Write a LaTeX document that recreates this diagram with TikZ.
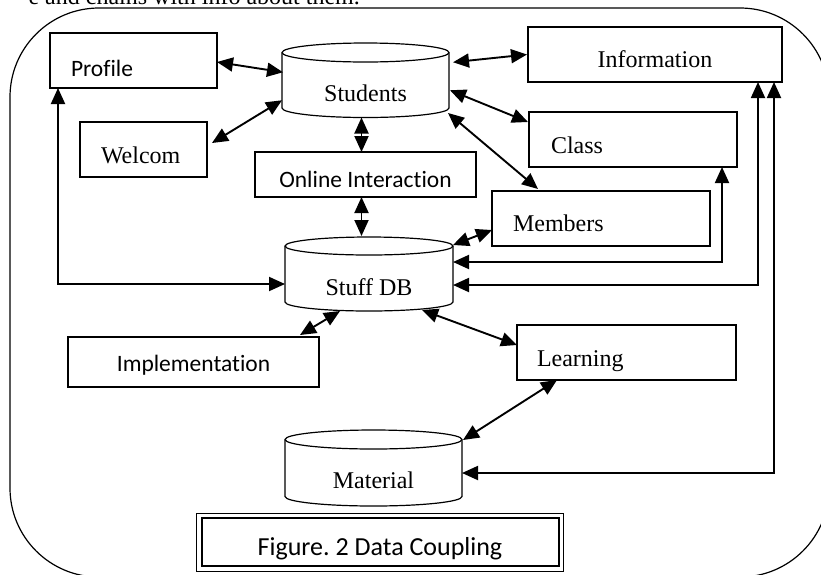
\documentclass[tikz,border=0pt]{standalone}
\usepackage{fontspec}
\setmainfont{Liberation Serif}
\newfontfamily\calib[Ligatures=NoCommon]{Carlito}
\usetikzlibrary{arrows.meta,calc}
\frenchspacing

% text placed inside a box: width, alignment, baseline drop below centre, content
\newcommand\intext[4]{\raisebox{-#3}[0pt][0pt]{\makebox[#1][#2]{#4}}}

% outline of a database cylinder drawn around a named node
\newcommand\cylout[3]{%
  \draw[cylline] ([yshift=-#3]#1.north west) -- ([yshift=#3]#1.south west)
    arc[start angle=180,end angle=360,x radius=#2,y radius=#3]
    -- ([yshift=-#3]#1.north east)
    arc[start angle=0,end angle=180,x radius=#2,y radius=#3] -- cycle;
  \draw[cylline] ([yshift=-#3]#1.north east)
    arc[start angle=0,end angle=-180,x radius=#2,y radius=#3];}

\tikzset{
  serif/.style={font=\fontsize{24pt}{28pt}\selectfont},
  sans/.style={font=\calib\fontsize{23.5pt}{28pt}\selectfont},
  box/.style={draw, line width=1.3pt, inner sep=0pt, outer sep=0pt},
  cyl/.style={inner sep=0pt, outer sep=0pt},
  cylline/.style={line width=1.2pt},
  conn/.style={line width=1.9pt,
    {Triangle[length=16pt,width=14pt]}-{Triangle[length=16pt,width=14pt]}},
  frame/.style={line width=1.2pt, rounded corners=89pt}
}

\begin{document}
\begin{tikzpicture}[x=1pt,y=-1pt]
\useasboundingbox (0,0) rectangle (821,574);
\clip (0,0) rectangle (821,574);

% running text above the figure
\node[serif, anchor=base east, inner sep=0pt] (runon) at (360,4) {e and chains with info about them.};

% enclosing frame
\draw[frame] (10,8) rectangle (829,577);

% boxes
\node[box, sans, minimum width=167pt, minimum height=55pt] (prof) at (133.5,60.5)
  {\intext{167pt}{l}{15.5pt}{\hspace{21pt}Profile}};
\node[box, serif, minimum width=127pt, minimum height=55pt] (wel) at (143.5,149.5)
  {\intext{127pt}{l}{13.5pt}{\hspace{21pt}Welcom}};
\node[box, serif, minimum width=254pt, minimum height=55pt] (info) at (655,54.5)
  {\intext{0pt}{c}{12.5pt}{Information}};
\node[box, serif, minimum width=208pt, minimum height=55pt] (cls) at (633,139.5)
  {\intext{208pt}{l}{13.5pt}{\hspace{22pt}Class}};
\node[box, sans, minimum width=221pt, minimum height=45pt] (oi) at (365.5,174.5)
  {\intext{0pt}{c}{12.5pt}{Online Interaction}};
\node[box, serif, minimum width=218pt, minimum height=55pt] (mem) at (601,218.5)
  {\intext{218pt}{l}{12.5pt}{\hspace{21pt}Members}};
\node[box, sans, minimum width=251pt, minimum height=50pt] (impl) at (193.5,362)
  {\intext{0pt}{c}{9pt}{Implementation}};
\node[box, serif, minimum width=219pt, minimum height=55pt] (lrn) at (626.5,352.5)
  {\intext{219pt}{l}{13.5pt}{\hspace{20pt}Learning}};

% databases
\node[cyl, serif, minimum width=167pt, minimum height=74.5pt] (stu) at (365.5,80.25)
  {\intext{0pt}{c}{20.75pt}{Students}};
\cylout{stu}{83.5pt}{9.5pt}
\node[cyl, serif, minimum width=168pt, minimum height=74pt] (sdb) at (369,274)
  {\intext{0pt}{c}{21pt}{Stuff DB}};
\cylout{sdb}{84pt}{9pt}
\node[cyl, serif, minimum width=177pt, minimum height=76pt] (mat) at (373.5,468)
  {\intext{0pt}{c}{20pt}{Material}};
\cylout{mat}{88.5pt}{9.5pt}

% caption with thin-thick border
\node[draw, line width=2pt, inner sep=0pt, font=\calib\fontsize{26pt}{30pt}\selectfont,
  minimum width=357pt, minimum height=48pt] (cap) at (380,542)
  {\intext{0pt}{c}{13pt}{Figure. 2 Data Coupling}};
\draw[line width=0.9pt] ([shift={(-4,-4)}]cap.north west) rectangle ([shift={(4,4)}]cap.south east);

% connectors around Students
\draw[conn] ([shift={(0,1.5)}]prof.east) -- ([shift={(1,-8)}]stu.west);
\draw[conn] ([shift={(5,-6.5)}]wel.east) -- ([shift={(0,20)}]stu.west);
\draw[conn] ([shift={(-4,0)}]stu.south) -- ([shift={(-4,0)}]oi.north);
\draw[conn] ([shift={(-4,0)}]oi.south) -- ([shift={(-7.5,-1)}]sdb.north);
\draw[conn] ([shift={(4,-18)}]stu.east) -- ([shift={(-1,0)}]info.west);
\draw[conn] ([shift={(1,10)}]stu.east) -- ([shift={(-1,-17.5)}]cls.west);
\draw[conn] ([shift={(-1,-4.5)}]stu.south east) -- ([shift={(46,-2)}]mem.north west);

% connectors around Stuff DB
\draw[conn] ([shift={(0,8)}]sdb.north east) -- ([shift={(0,-16)}]mem.south west);
\draw[conn] ([shift={(0,-12)}]sdb.east) -| ([shift={(-15,0)}]cls.south east);
\draw[conn] ([shift={(0,11)}]sdb.east) -| ([shift={(-24,0)}]info.south east);
\draw[conn] ([shift={(0,5)}]mat.east) -| ([shift={(-8,0)}]info.south east);
\draw[conn] ([shift={(8,0)}]prof.south west) |- ([shift={(0,10)}]sdb.west);
\draw[conn] ([shift={(-29,0)}]sdb.south) -- ([shift={(-19,-2)}]impl.north east);
\draw[conn] ([shift={(-31,-1)}]sdb.south east) -- ([shift={(0,-7.5)}]lrn.west);
\draw[conn] ([shift={(40,0)}]lrn.south west) -- ([shift={(1,10)}]mat.north east);
\end{tikzpicture}
\end{document}
